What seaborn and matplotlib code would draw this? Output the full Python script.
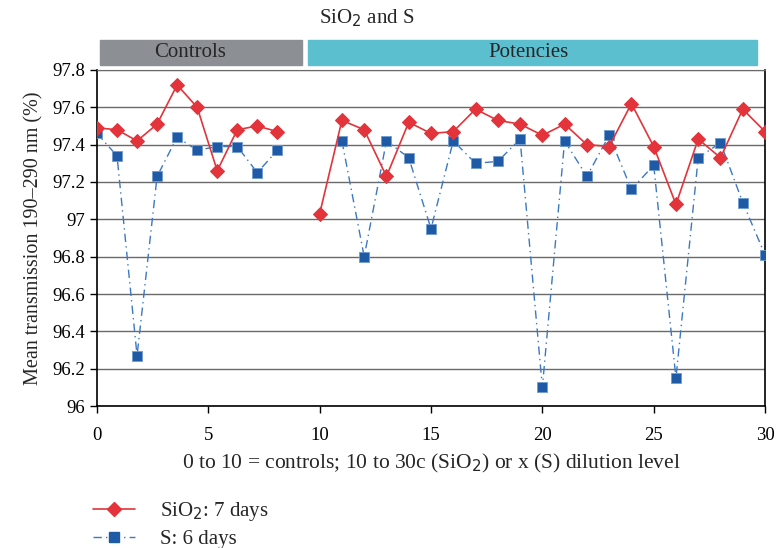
import numpy as np
import pandas as pd
import matplotlib
matplotlib.use("Agg")
import matplotlib.pyplot as plt
import matplotlib.transforms as mtransforms
from matplotlib.patches import Rectangle
from matplotlib.lines import Line2D
import seaborn as sns

# Data
ctrl_x = [0, 0.9, 1.8, 2.7, 3.6, 4.5, 5.4, 6.3, 7.2, 8.1]
sio2_ctrl = [97.49, 97.48, 97.42, 97.51, 97.72, 97.60, 97.26, 97.48, 97.50, 97.47]
s_ctrl = [97.46, 97.34, 96.27, 97.23, 97.44, 97.37, 97.39, 97.39, 97.25, 97.37]

pot_x = list(range(10, 31))
sio2_pot = [97.03, 97.53, 97.48, 97.23, 97.52, 97.46, 97.47, 97.59, 97.53, 97.51,
            97.45, 97.51, 97.40, 97.39, 97.62, 97.39, 97.08, 97.43, 97.33, 97.59, 97.47]
s_pot_x = list(range(11, 31))
s_pot = [97.42, 96.80, 97.42, 97.33, 96.95, 97.42, 97.30, 97.31, 97.43,
         96.10, 97.42, 97.23, 97.45, 97.16, 97.29, 96.15, 97.33, 97.41, 97.09, 96.81]

red = "#e3343b"
blue = "#1f5aa6"
blue_line = "#3d78c0"
dashdot = (0, (6, 3, 1, 3))

sns.set_style("white")
plt.rcParams["font.family"] = ["Liberation Serif", "DejaVu Serif"]

fig = plt.figure(figsize=(7.77, 5.48), dpi=100)
ax = fig.add_axes([0.1248, 0.2591, 0.8598, 0.6132])

# horizontal grid
for v in np.arange(96.0, 97.81, 0.2):
    ax.axhline(v, color="#6a6a6a", lw=1.0, zorder=0)

# blue series (dash-dot), drawn per segment
for xs, ys in [(ctrl_x, s_ctrl), (s_pot_x, s_pot)]:
    df = pd.DataFrame({"x": xs, "y": ys})
    sns.lineplot(data=df, x="x", y="y", ax=ax, color=blue_line, lw=1.0,
                 linestyle=dashdot, zorder=2)
    ax.scatter(xs, ys, marker="s", s=42, color=blue, edgecolor="#6f9bd0",
               linewidth=0.6, zorder=3)

# red series (solid with diamonds)
for xs, ys in [(ctrl_x, sio2_ctrl), (pot_x, sio2_pot)]:
    df = pd.DataFrame({"x": xs, "y": ys})
    sns.lineplot(data=df, x="x", y="y", ax=ax, color=red, lw=1.2, zorder=4,
                 marker="D", markersize=7, markeredgecolor=red)

ax.set_xlim(0, 30)
ax.set_ylim(96, 97.8)
ax.set_xticks([0, 5, 10, 15, 20, 25, 30])
ax.set_yticks(np.round(np.arange(96.0, 97.81, 0.2), 1))
ax.set_yticklabels(["96", "96.2", "96.4", "96.6", "96.8", "97", "97.2", "97.4", "97.6", "97.8"])
ax.tick_params(axis="both", direction="out", length=5, width=1, labelsize=13.5,
               colors="black", left=True, bottom=True)
ax.tick_params(axis="x", pad=10)
for side in ["left", "bottom", "right"]:
    ax.spines[side].set_color("black")
    ax.spines[side].set_linewidth(1.2)
ax.spines["top"].set_color("#6a6a6a")
ax.set_xlabel("0 to 10 = controls; 10 to 30c (SiO$_2$) or x (S) dilution level",
              fontsize=15.5, labelpad=6)
ax.set_ylabel("Mean transmission 190–290 nm (%)", fontsize=14.5, labelpad=6)

# header boxes above plot
trans = mtransforms.blended_transform_factory(ax.transData, ax.transAxes)
ax.add_patch(Rectangle((0.13, 1.015), 9.07, 0.074, transform=trans,
                       color="#8c9094", clip_on=False))
ax.add_patch(Rectangle((9.47, 1.015), 20.17, 0.074, transform=trans,
                       color="#5bbfcf", clip_on=False))
ax.text(4.2, 1.052, "Controls", transform=trans, ha="center", va="center", fontsize=15)
ax.text(19.4, 1.052, "Potencies", transform=trans, ha="center", va="center", fontsize=15)
fig.text(0.472, 0.967, "SiO$_2$ and S", ha="center", va="center", fontsize=15)

# legend
handles = [
    Line2D([0], [0], color=red, lw=1.2, marker="D", markersize=7),
    Line2D([0], [0], color=blue_line, lw=1.0, linestyle=dashdot,
           marker="s", markersize=7, markerfacecolor=blue, markeredgecolor=blue),
]
fig.legend(handles, ["SiO$_2$: 7 days", "S: 6 days"], loc="upper left",
           bbox_to_anchor=(0.12, 0.087), frameon=False, fontsize=15,
           handlelength=2.0, handletextpad=1.2, labelspacing=0.3, borderpad=0,
           borderaxespad=0)

fig.savefig("out.png", dpi=100)
